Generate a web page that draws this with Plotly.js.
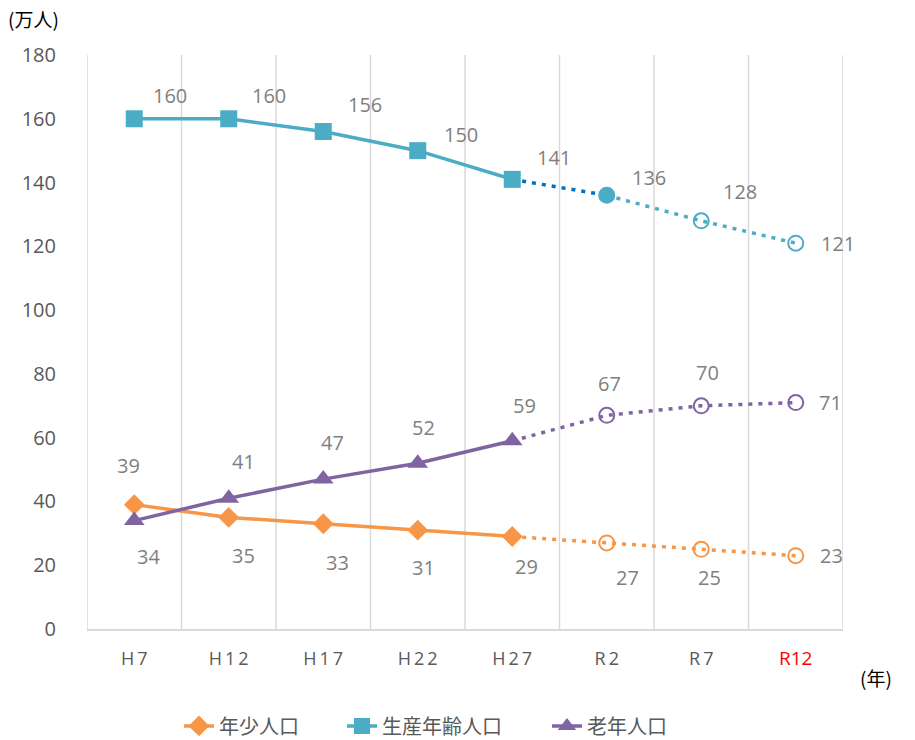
<!DOCTYPE html>
<html><head><meta charset="utf-8">
<script src="https://cdn.plot.ly/plotly-3.0.1.min.js"></script>
<style>html,body{margin:0;padding:0;background:#fff}#chart{width:915px;height:740px}</style>
</head><body><div id="chart"></div>
<script>
// ---- data ----
const categories = ['H7','H12','H17','H22','H27','R2','R7','R12'];
const tickLabels = ['H\u20097','H\u20091\u20092','H\u20091\u20097','H\u20092\u20092','H\u20092\u20097','R\u20092','R\u20097','<span style="color:#ff0000;font-size:19px">R12</span>'];
const youth   = [39, 35, 33, 31, 29, 27, 25, 23];   // 年少人口
const working = [160, 160, 156, 150, 141, 136, 128, 121]; // 生産年齢人口
const elderly = [34, 41, 47, 52, 59, 67, 70, 71];   // 老年人口
const seriesNames = ['年少人口', '生産年齢人口', '老年人口'];
const lastActual = 4; // index of H27 (last actual value)

// ---- label offsets (px) ----
const youthShift   = [[-6,39],[15,-38],[14,-39],[6,-37],[14,-30],[21,-35],[8,-28],[36,0]];
const workingShift = [[36,23],[40,23],[42,27],[43,16],[42,22],[42,18],[39,29],[42,0]];
const elderlyShift = [[14,-36],[15,37],[9,37],[6,36],[12,35],[3,32],[6,33],[35,0]];

const C_OR = '#F79646', C_BL = '#4BACC6', C_PU = '#8064A2', C_DB = '#0070C0';
const dotDash = '4px,6px';

const idx = categories.map((_, i) => i);
const act = idx.slice(0, lastActual + 1);
const fut = idx.slice(lastActual);
const pick = (arr, ids) => ids.map(i => arr[i]);
const cats = ids => ids.map(i => categories[i]);

const traces = [];
function addSeries(vals, name, color, symbol, msize, firstDotColor, firstFutFilled, legendId) {
  if (firstDotColor) {
    traces.push({x: cats(fut.slice(0,2)), y: pick(vals, fut.slice(0,2)), mode:'lines', showlegend:false, hoverinfo:'skip',
      line:{color:firstDotColor, width:3.5, dash:dotDash}});
    traces.push({x: cats(fut.slice(1)), y: pick(vals, fut.slice(1)), mode:'lines', showlegend:false, hoverinfo:'skip',
      line:{color:color, width:3.5, dash:dotDash}});
  } else {
    traces.push({x: cats(fut), y: pick(vals, fut), mode:'lines', showlegend:false, hoverinfo:'skip',
      line:{color:color, width:3.5, dash:dotDash}});
  }
  const fm = fut.slice(1);
  traces.push({x: cats(fm), y: pick(vals, fm), mode:'markers', showlegend:false, hoverinfo:'skip',
    marker:{symbol: fm.map((_, k) => (k === 0 && firstFutFilled) ? 'circle' : 'circle-open'),
            size: 15, opacity: 1, color: color, line:{color:color, width:2}}});
  traces.push({x: cats(act), y: pick(vals, act), mode:'lines+markers', name:name, legend:legendId,
    line:{color:color, width:3.5}, marker:{symbol:symbol, size:msize, color:color, opacity:1}});
}
addSeries(youth, seriesNames[0], C_OR, 'diamond', 16, null, false, 'legend');
addSeries(working, seriesNames[1], C_BL, 'square', 17, C_DB, true, 'legend2');
addSeries(elderly, seriesNames[2], C_PU, 'triangle-up', 18, null, false, 'legend3');

// ---- annotations ----
const annotations = [];
function addLabels(vals, shifts) {
  vals.forEach((v, i) => annotations.push({x: categories[i], y: v, text: String(v), showarrow:false,
    xshift: shifts[i][0], yshift: shifts[i][1], font:{size:20, color:'#7f7f7f', family:'Open Sans, sans-serif'}}));
}
addLabels(youth, youthShift);
addLabels(working, workingShift);
addLabels(elderly, elderlyShift);
annotations.push({xref:'paper', yref:'paper', x:-0.071, y:1.064, xanchor:'center', yanchor:'middle', text:'(万人)', showarrow:false,
  font:{size:19, color:'#000', family:'Noto Sans CJK JP'}});
annotations.push({xref:'paper', yref:'paper', x:1.044, y:-0.085, xanchor:'center', yanchor:'middle', text:'(年)', showarrow:false,
  font:{size:19, color:'#000', family:'Noto Sans CJK JP'}});

const shapes = [];
for (let i = 0; i <= categories.length; i++) {
  shapes.push({type:'line', xref:'x', yref:'y', x0:i-0.5, x1:i-0.5, y0:0, y1:180, layer:'below',
    line:{color:'#d9d9d9', width:1.5}});
}

const legFont = {size:20, color:'#595959', family:'Noto Sans CJK JP'};
const legBase = {orientation:'h', xanchor:'left', xref:'container', yref:'container', y:0.019, yanchor:'middle', font:legFont};

const layout = {
  width:915, height:740,
  margin:{l:87, r:72, t:55, b:111, autoexpand:false},
  paper_bgcolor:'#fff', plot_bgcolor:'#fff',
  font:{family:'Open Sans, sans-serif', color:'#595959'},
  xaxis:{type:'category', categoryorder:'array', categoryarray:categories, range:[-0.5, categories.length-0.5],
    tickvals:categories, ticktext:tickLabels, showgrid:false, zeroline:false, automargin:false,
    showline:true, linecolor:'#d9d9d9', linewidth:1.5, ticks:'outside', ticklen:13, tickcolor:'rgba(0,0,0,0)',
    tickfont:{size:18, color:'#595959'}, fixedrange:true},
  yaxis:{range:[0,180], dtick:20, tick0:0, showgrid:false, zeroline:false, showline:false, automargin:false,
    ticks:'outside', ticklen:26, tickcolor:'rgba(0,0,0,0)', tickfont:{size:20, color:'#595959'}},
  legend: Object.assign({}, legBase, {x:179/915}),
  legend2: Object.assign({}, legBase, {x:342/915}),
  legend3: Object.assign({}, legBase, {x:547/915}),
  annotations: annotations,
  shapes: shapes,
  showlegend:true
};
Plotly.newPlot('chart', traces, layout, {displayModeBar:false, staticPlot:true});
</script></body></html>
